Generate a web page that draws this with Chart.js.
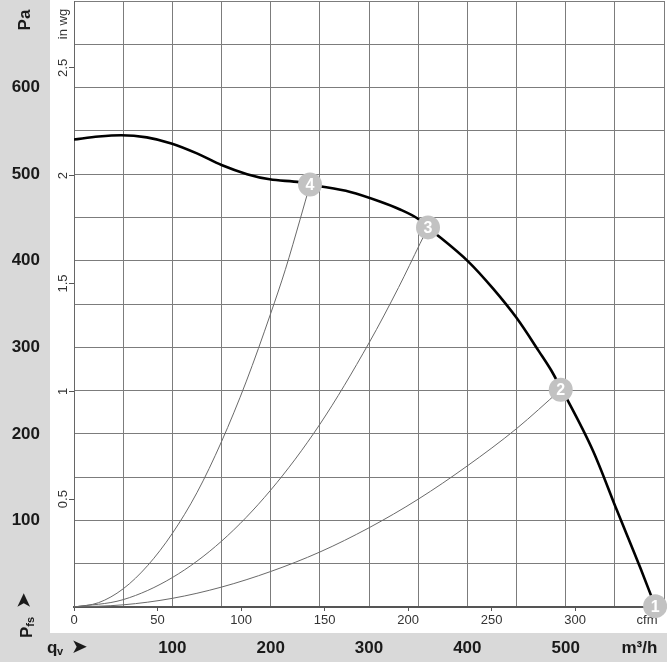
<!DOCTYPE html>
<html><head><meta charset="utf-8">
<script src="https://cdn.jsdelivr.net/npm/chart.js@4/dist/chart.umd.min.js"></script>
<style>html,body{margin:0;padding:0;background:#fff}canvas{display:block}</style>
</head><body>
<canvas id="c" width="667" height="667"></canvas>
<script>
// ---- data ----
// fan curve: flow in m³/h, static pressure in Pa
const fanFlow     = [0, 25, 48, 74, 99, 125, 150, 176, 199, 230, 240, 281, 311, 331, 349, 360, 401, 426, 450, 473, 486, 495, 501, 528, 552, 576, 591];
const fanPressure = [540, 543.5, 545, 542.5, 535.5, 524, 510.5, 500, 494, 490.5, 488, 479.5, 468.5, 459.5, 449, 438.5, 399, 368, 334, 295, 272, 253, 241, 180, 112, 45, 1];
// system curves ending at operating points 4, 3, 2
const sys4Flow = [0, 25, 50, 75, 100, 125, 150, 175, 200, 215, 230, 240];
const sys4Pressure = [0, 5, 21, 48, 85, 132, 191, 260, 339, 390, 448, 488];
const sys3Flow = [0, 50, 100, 150, 200, 250, 300, 330, 352, 360];
const sys3Pressure = [0, 8.5, 34, 76, 135, 211, 305, 369, 420, 438.5];
const sys2Flow = [0, 50, 100, 150, 200, 250, 300, 350, 400, 450, 495];
const sys2Pressure = [0, 2.5, 10, 23, 41, 63.5, 91.5, 124.5, 163, 206, 251];
// operating point markers
const markerLabels   = ['1', '2', '3', '4'];
const markerFlow     = [591, 495, 360, 240];
const markerPressure = [1, 251, 438.5, 488];
// tick labels
const paTicks   = [100, 200, 300, 400, 500, 600];
const paGrid    = [0, 50, 100, 150, 200, 250, 300, 350, 400, 450, 500, 550, 600, 650, 700];
const flowTicks = [100, 200, 300, 400, 500];
const flowGrid  = [0, 50, 100, 150, 200, 250, 300, 350, 400, 450, 500, 550, 600];
const flowUnitPos = 575;           // where "m³/h" sits on the m³/h axis
const cfmTicks  = [0, 50, 100, 150, 200, 250, 300];
const cfmUnitPos = 343;            // where "cfm" sits on the cfm axis
const inwgTicks = [0.5, 1, 1.5, 2, 2.5];

const PA_PER_INWG = 249.09;
const M3H_PER_CFM = 1.699;
const FONT = '"Liberation Sans", Arial, sans-serif';
const GRID = '#7c7c7c';

const pts = (xs, ys) => xs.map((x, i) => ({x, y: ys[i]}));
const noPad = s => { s.paddingTop = 0; s.paddingBottom = 0; s.paddingLeft = 0; s.paddingRight = 0; };

const decorPlugin = {
  id: 'decor',
  beforeDraw(chart) {
    const ctx = chart.ctx;
    ctx.save();
    ctx.fillStyle = '#ffffff';
    ctx.fillRect(0, 0, 667, 667);
    ctx.fillStyle = '#d9d9d9';
    ctx.fillRect(0, 0, 50, 633);
    ctx.fillRect(0, 633, 667, 29);
    ctx.restore();
  },
  afterDraw(chart) {
    const ctx = chart.ctx;
    ctx.save();
    ctx.fillStyle = '#1a1a1a';
    // "Pa"
    ctx.save();
    ctx.translate(25, 20);
    ctx.rotate(-Math.PI / 2);
    ctx.font = 'bold 17px ' + FONT;
    ctx.textAlign = 'center'; ctx.textBaseline = 'middle';
    ctx.fillText('Pa', 0, 0);
    ctx.restore();
    // "Pfs ➤"
    ctx.save();
    ctx.translate(32, 638);
    ctx.rotate(-Math.PI / 2);
    ctx.textAlign = 'left'; ctx.textBaseline = 'alphabetic';
    ctx.font = 'bold 17px ' + FONT;
    ctx.fillText('P', 0, 0);
    const w = ctx.measureText('P').width;
    ctx.font = 'bold 11px ' + FONT;
    ctx.fillText('fs', w, 2);
    ctx.font = '20px "DejaVu Sans"';
    ctx.textBaseline = 'middle';
    ctx.fillText('\u27A4', 29, -7);
    ctx.restore();
    // "qv ➤"
    ctx.textAlign = 'left'; ctx.textBaseline = 'alphabetic';
    ctx.font = 'bold 17px ' + FONT;
    ctx.fillText('q', 47, 653);
    ctx.font = 'bold 11px ' + FONT;
    ctx.fillText('v', 57, 655);
    ctx.font = '20px "DejaVu Sans"';
    ctx.textBaseline = 'middle';
    ctx.fillText('\u27A4', 71, 648);
    // in wg labels (rotated)
    const yw = chart.scales.yw;
    ctx.fillStyle = '#333';
    ctx.font = '13px ' + FONT;
    ctx.textAlign = 'center'; ctx.textBaseline = 'middle';
    inwgTicks.forEach(v => {
      ctx.save();
      ctx.translate(63, yw.getPixelForValue(v));
      ctx.rotate(-Math.PI / 2);
      ctx.fillText(String(v), 0, 0);
      ctx.restore();
    });
    ctx.save();
    ctx.translate(63, 24);
    ctx.rotate(-Math.PI / 2);
    ctx.fillText('in wg', 0, 0);
    ctx.restore();
    // marker numbers
    const meta = chart.getDatasetMeta(0);
    ctx.fillStyle = '#ffffff';
    ctx.font = 'bold 16px ' + FONT;
    meta.data.forEach((el, i) => {
      ctx.fillText(markerLabels[i], el.x, el.y + 1);
    });
    ctx.restore();
  }
};

new Chart(document.getElementById('c'), {
  type: 'scatter',
  data: {
    datasets: [
      { label: 'points', data: pts(markerFlow, markerPressure), pointRadius: 12,
        pointBackgroundColor: '#c2c2c2', pointBorderWidth: 0, showLine: false, clip: false },
      { label: 'fan', data: pts(fanFlow, fanPressure), showLine: true, pointRadius: 0,
        borderColor: '#000', borderWidth: 2.6, cubicInterpolationMode: 'monotone' },
      { label: 'sys4', data: pts(sys4Flow, sys4Pressure), showLine: true, pointRadius: 0,
        borderColor: '#6a6a6a', borderWidth: 1, cubicInterpolationMode: 'monotone' },
      { label: 'sys3', data: pts(sys3Flow, sys3Pressure), showLine: true, pointRadius: 0,
        borderColor: '#6a6a6a', borderWidth: 1, cubicInterpolationMode: 'monotone' },
      { label: 'sys2', data: pts(sys2Flow, sys2Pressure), showLine: true, pointRadius: 0,
        borderColor: '#6a6a6a', borderWidth: 1, cubicInterpolationMode: 'monotone' }
    ]
  },
  options: {
    responsive: false,
    devicePixelRatio: 1,
    animation: false,
    events: [],
    layout: { autoPadding: false, padding: { top: 1, right: 3, left: 0, bottom: 0 } },
    plugins: { legend: { display: false }, tooltip: { enabled: false } },
    scales: {
      x: {
        type: 'linear', position: 'bottom', weight: 10, min: 0, max: 600,
        afterBuildTicks: s => { s.ticks = flowGrid.map(v => ({value: v})).concat([{value: flowUnitPos}]); },
        ticks: {
          autoSkip: false, maxRotation: 0, minRotation: 0, padding: 5,
          font: { family: FONT, size: 17, weight: 'bold' }, color: '#1a1a1a',
          callback: v => flowTicks.includes(v) ? String(v) : (v === flowUnitPos ? 'm³/h' : '')
        },
        grid: {
          color: c => (c.tick && c.tick.value === flowUnitPos) ? 'rgba(0,0,0,0)' : GRID,
          drawTicks: false, lineWidth: 1
        },
        border: { display: false },
        afterFit: s => { s.height = 34; noPad(s); }
      },
      xc: {
        type: 'linear', position: 'bottom', weight: 0, min: 0, max: 600 / M3H_PER_CFM,
        afterBuildTicks: s => { s.ticks = cfmTicks.map(v => ({value: v})).concat([{value: cfmUnitPos}]); },
        ticks: {
          autoSkip: false, maxRotation: 0, minRotation: 0, padding: 2,
          font: { family: FONT, size: 13 }, color: '#333',
          callback: v => v === cfmUnitPos ? 'cfm' : String(v)
        },
        grid: {
          drawOnChartArea: false, drawTicks: true, tickLength: 4,
          color: c => (c.tick && c.tick.value === cfmUnitPos) ? 'rgba(0,0,0,0)' : '#555'
        },
        border: { display: true, color: '#555', width: 2 },
        afterFit: s => { s.height = 26; noPad(s); }
      },
      y: {
        type: 'linear', position: 'left', weight: 10, min: 0, max: 700,
        afterBuildTicks: s => { s.ticks = paGrid.map(v => ({value: v})); },
        ticks: {
          autoSkip: false, crossAlign: 'center', padding: 10,
          font: { family: FONT, size: 17, weight: 'bold' }, color: '#1a1a1a',
          callback: v => paTicks.includes(v) ? String(v) : ''
        },
        grid: { color: GRID, drawTicks: false, lineWidth: 1 },
        border: { display: false },
        afterFit: s => { s.width = 50; noPad(s); }
      },
      yw: {
        type: 'linear', position: 'left', weight: 0, min: 0, max: 700 / PA_PER_INWG,
        afterBuildTicks: s => { s.ticks = inwgTicks.map(v => ({value: v})); },
        ticks: { display: false },
        grid: { drawOnChartArea: false, drawTicks: true, tickLength: 5, color: '#555' },
        border: { display: true, color: '#666', width: 1 },
        afterFit: s => { s.width = 24; noPad(s); }
      }
    }
  },
  plugins: [decorPlugin]
});
</script>
</body></html>
